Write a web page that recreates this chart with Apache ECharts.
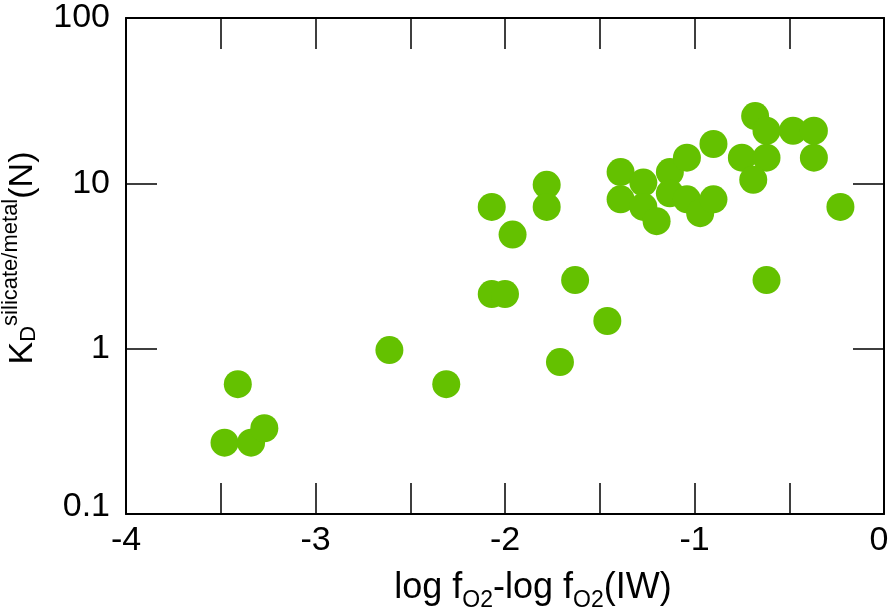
<!DOCTYPE html>
<html>
<head>
<meta charset="utf-8">
<script src="https://cdn.jsdelivr.net/npm/echarts@6/dist/echarts.min.js"></script>
<style>
  html, body { margin: 0; padding: 0; background: #fff; }
  #chart { width: 890px; height: 610px; }
</style>
</head>
<body>
<div id="chart"></div>
<script>
// log fO2 - log fO2(IW)
const xVals = [-3.48, -3.41, -3.34, -3.27, -2.61, -2.31, -2.07, -1.96, -1.78, -1.78,
  -2.07, -2.00, -1.63, -1.46, -1.71, -1.39, -1.39, -1.27, -1.27, -1.20,
  -1.13, -1.04, -1.13, -1.04, -0.97, -0.90, -0.90, -0.75, -0.62, -0.69,
  -0.68, -0.62, -0.48, -0.37, -0.37, -0.23, -0.62];
// KD silicate/metal (N)
const kdVals = [0.27, 0.61, 0.27, 0.33, 0.98, 0.61, 7.2, 4.9, 9.8, 7.2,
  2.14, 2.14, 2.6, 1.47, 0.83, 11.7, 8.0, 10.1, 7.2, 5.9,
  11.7, 14.3, 8.7, 8.0, 6.6, 8.0, 17.3, 14.3, 14.3, 10.5,
  25.5, 20.8, 20.8, 20.8, 14.3, 7.2, 2.6];

const points = xVals.map((x, i) => [x, kdVals[i]]);

const font = 'Liberation Sans';
const black = '#000';

const frameX = (pos, showLabel) => ({
  type: 'value',
  position: pos,
  min: -4,
  max: 0,
  interval: 0.5,
  axisLine: { show: true, onZero: false, lineStyle: { color: black, width: 2 } },
  axisTick: { show: true, inside: true, length: 31, lineStyle: { color: black, width: 1.5 } },
  axisLabel: {
    show: showLabel,
    margin: 10,
    color: black,
    fontFamily: font,
    fontSize: 34,
    // the last label is pulled in a little so it stays on the page
    formatter: v => !Number.isInteger(v) ? '' : (v === 0 ? '{r|0}' : String(v)),
    rich: {
      r: { fontFamily: font, fontSize: 34, color: black, padding: [0, 10, 0, 0] }
    }
  },
  splitLine: { show: false }
});

const frameY = (pos, showLabel) => ({
  type: 'log',
  logBase: 10,
  position: pos,
  min: 0.1,
  max: 100,
  axisLine: { show: true, onZero: false, lineStyle: { color: black, width: 2 } },
  axisTick: { show: true, inside: true, length: 31, lineStyle: { color: black, width: 1.5 } },
  axisLabel: {
    show: showLabel,
    margin: 16,
    color: black,
    fontFamily: font,
    fontSize: 34,
    formatter: v => {
      const s = String(Number(v.toPrecision(3)));
      return s === '0.1' ? '{b|0.1}' : s;
    },
    rich: {
      b: { fontFamily: font, fontSize: 34, color: black, padding: [0, 0, 14, 0] }
    }
  },
  splitLine: { show: false }
});

const xMain = frameX('bottom', true);
xMain.name = '{a|log f}{s|O2}{a|-log f}{s|O2}{a|(IW)}';
xMain.nameLocation = 'middle';
xMain.nameGap = 56;
xMain.nameTextStyle = {
  color: black,
  padding: [0, 0, 0, 56],
  rich: {
    a: { fontFamily: font, fontSize: 36, lineHeight: 42, color: black, verticalAlign: 'top' },
    s: { fontFamily: font, fontSize: 23, lineHeight: 22, color: black, verticalAlign: 'bottom' }
  }
};

const yMain = frameY('left', true);
yMain.name = '{a|K}{d|D}{u|silicate/metal}{a|(N)}';
yMain.nameLocation = 'middle';
yMain.nameRotate = 90;
yMain.nameGap = 86;
yMain.nameTextStyle = {
  color: black,
  padding: [0, 0, 0, 16],
  rich: {
    a: { fontFamily: font, fontSize: 34, lineHeight: 40, color: black, verticalAlign: 'bottom' },
    d: { fontFamily: font, fontSize: 22, lineHeight: 22, color: black, verticalAlign: 'bottom' },
    u: { fontFamily: font, fontSize: 22, lineHeight: 22, color: black, verticalAlign: 'top' }
  }
};

const chart = echarts.init(document.getElementById('chart'), null, { renderer: 'canvas' });
chart.setOption({
  backgroundColor: '#fff',
  animation: false,
  grid: { left: 126, right: 6, top: 18, bottom: 96, outerBoundsMode: 'none' },
  xAxis: [xMain, frameX('top', false)],
  yAxis: [yMain, frameY('right', false)],
  series: [
    {
      type: 'scatter',
      xAxisIndex: 0,
      yAxisIndex: 0,
      symbol: 'circle',
      symbolSize: 28,
      itemStyle: { color: '#64c100', opacity: 1 },
      data: points
    }
  ]
});
</script>
</body>
</html>
